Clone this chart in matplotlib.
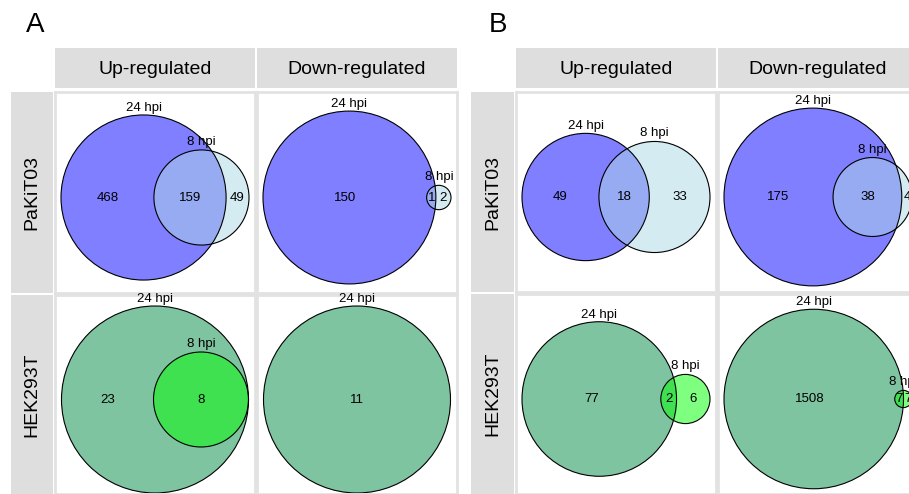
import numpy as np
import matplotlib.pyplot as plt
from matplotlib.patches import Circle, Rectangle

plt.rcParams['font.family'] = ['Liberation Sans', 'DejaVu Sans']

conditions = ['Up-regulated', 'Down-regulated']
cell_lines = ['PaKiT03', 'HEK293T']
set_names = ['24 hpi', '8 hpi']

# region counts per facet: (24 hpi only, both, 8 hpi only)
counts_A = [[(468, 159, 49), (150, 1, 2)],
            [(23, 8, 0), (11, 0, 0)]]
counts_B = [[(49, 18, 33), (175, 38, 4)],
            [(77, 2, 6), (1508, 7, 7)]]

# fill colours (drawn with alpha 0.5) for each row: 24 hpi, 8 hpi
row_colors = [('#0000FF', '#ADD8E6'), ('#008B45', '#00FF00')]

W, H = 909, 494
fig = plt.figure(figsize=(W / 100, H / 100), dpi=100)
bg = fig.add_axes([0, 0, 1, 1])
bg.set_xlim(0, W)
bg.set_ylim(H, 0)
bg.axis('off')


def px_axes(x0, y0, x1, y1):
    ax = fig.add_axes([x0 / W, 1 - y1 / H, (x1 - x0) / W, (y1 - y0) / H])
    ax.set_xlim(0, x1 - x0)
    ax.set_ylim(y1 - y0, 0)
    ax.set_xticks([])
    ax.set_yticks([])
    for s in ax.spines.values():
        s.set_color('#E2E2E2')
        s.set_linewidth(2)
    return ax


def lens_area(d, r1, r2):
    if d >= r1 + r2:
        return 0.0
    if d <= abs(r1 - r2):
        return np.pi * min(r1, r2) ** 2
    a1 = r1 ** 2 * np.arccos((d * d + r1 * r1 - r2 * r2) / (2 * d * r1))
    a2 = r2 ** 2 * np.arccos((d * d + r2 * r2 - r1 * r1) / (2 * d * r2))
    k = (-d + r1 + r2) * (d + r1 - r2) * (d - r1 + r2) * (d + r1 + r2)
    return a1 + a2 - 0.5 * np.sqrt(k)


def venn(ax, counts, colors, margin=6, shift=5):
    only1, both, only2 = counts
    n1, n2 = only1 + both, both + only2
    r1 = np.sqrt(n1 / np.pi)
    r2 = np.sqrt(n2 / np.pi) if n2 > 0 else 0.0
    if n2 == 0:
        d = 0.0
    elif both == n2:
        d = r1 - r2
    else:
        lo, hi = abs(r1 - r2), r1 + r2
        for _ in range(80):
            mid = (lo + hi) / 2
            if lens_area(mid, r1, r2) > both:
                lo = mid
            else:
                hi = mid
        d = (lo + hi) / 2
    w_px = ax.get_xlim()[1]
    h_px = ax.get_ylim()[0]
    xmin, xmax = -r1, max(r1, d + r2)
    s = min((w_px - 2 * margin) / (xmax - xmin), (h_px - 2 * margin) / (2 * r1))
    ox = w_px / 2 - s * (xmin + xmax) / 2
    oy = h_px / 2 + shift
    c1x, c2x, R1, R2 = ox, ox + s * d, s * r1, s * r2
    ax.add_patch(Circle((c1x, oy), R1, fc=colors[0], alpha=0.5, lw=0))
    if n2 > 0:
        ax.add_patch(Circle((c2x, oy), R2, fc=colors[1], alpha=0.5, lw=0))
        ax.add_patch(Circle((c2x, oy), R2, fill=False, ec='black', lw=0.8))
    ax.add_patch(Circle((c1x, oy), R1, fill=False, ec='black', lw=0.8))
    kw = dict(ha='center', va='center', fontsize=9.5)
    ax.text(c1x, oy - R1 - 7, set_names[0], **kw)
    if n2 == 0:
        ax.text(c1x, oy, str(only1), **kw)
        return
    ax.text(c2x, oy - R2 - 8, set_names[1], **kw)
    ax.text(((c1x - R1) + (c2x - R2)) / 2, oy, str(only1), **kw)
    ax.text(((c2x - R2) + min(c1x + R1, c2x + R2)) / 2, oy, str(both), **kw)
    if c2x + R2 > c1x + R1:
        ax.text(((c1x + R1) + (c2x + R2)) / 2, oy, str(only2), **kw)


def block(counts, label, lx, col_x, row_y, strip_x):
    bg.text(lx, 25, label, fontsize=20, ha='center', va='center')
    for j, (x0, x1) in enumerate(col_x):
        bg.add_patch(Rectangle((x0, 48), x1 - x0, 40, fc='#DEDEDE', ec='none'))
        bg.text((x0 + x1) / 2, 70, conditions[j], fontsize=14,
                ha='center', va='center')
    for i, (y0, y1) in enumerate(row_y):
        bg.add_patch(Rectangle((strip_x[0], y0), strip_x[1] - strip_x[0], y1 - y0,
                               fc='#DEDEDE', ec='none'))
        bg.text((strip_x[0] + strip_x[1]) / 2, (y0 + y1) / 2, cell_lines[i],
                fontsize=14, rotation=90, ha='center', va='center')
        for j, (x0, x1) in enumerate(col_x):
            ax = px_axes(x0, y0, x1, y1)
            venn(ax, counts[i][j], row_colors[i])


block(counts_A, 'A', 35, [(55, 255), (257, 457)], [(92, 293), (295, 494)], (11, 53))
block(counts_B, 'B', 498, [(516, 716), (718, 918)], [(92, 292), (294, 494)], (471, 514))

fig.savefig('out.png', dpi=100)
